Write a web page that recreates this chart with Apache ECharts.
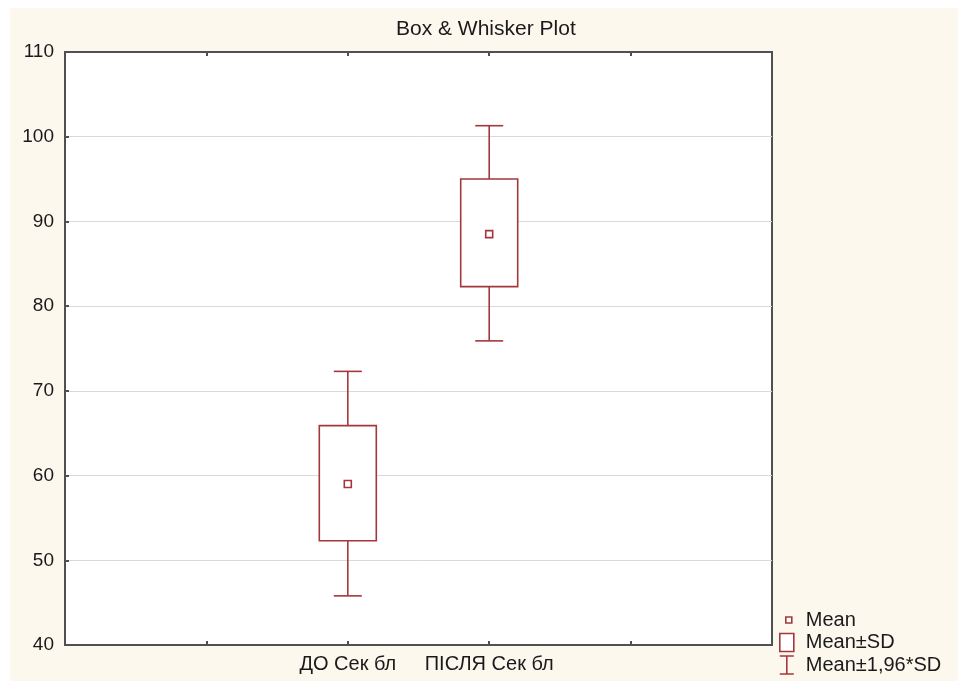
<!DOCTYPE html>
<html>
<head>
<meta charset="utf-8">
<script src="https://cdn.jsdelivr.net/npm/echarts@6/dist/echarts.min.js"></script>
<style>
  html, body { margin: 0; padding: 0; background: #ffffff; }
  #bg { position: absolute; left: 10px; top: 8px; width: 948px; height: 673px; background: #fdf8ee; }
  #main { position: absolute; left: 0; top: 0; width: 958px; height: 681px; }
</style>
</head>
<body>
<div id="bg"></div>
<div id="main"></div>
<script>
// ---- data ----
const title = 'Box & Whisker Plot';
const categories = ['ДО Сек бл', 'ПІСЛЯ Сек бл'];
const means  = [59.0, 88.5];
const sdLow  = [52.3, 82.3];
const sdHigh = [65.9, 95.0];
const ciLow  = [45.8, 75.9];
const ciHigh = [72.3, 101.3];
const yMin = 40, yMax = 110, yStep = 10;
const legendNames = ['Mean', 'Mean±SD', 'Mean±1,96*SD'];

// ---- styling ----
const RED = '#a5373c';
const AXIS = '#505050';
const TXT = '#1a1a1a';
const FONT = 'Liberation Sans, Arial, sans-serif';

// category axis padded so boxes sit on the 2nd and 3rd inner ticks
const axisCats = ['', ''].concat(categories, ['', '']);
const offset = 2;

const whiskerData = categories.map((c, i) => [i + offset, ciLow[i], sdLow[i], sdHigh[i], ciHigh[i]]);
const boxData = categories.map((c, i) => [i + offset, sdLow[i], sdHigh[i]]);
const meanData = categories.map((c, i) => [i + offset, means[i]]);

const lineStyle = { stroke: RED, lineWidth: 1.6 };

const chart = echarts.init(document.getElementById('main'), null, { renderer: 'canvas' });
chart.setOption({
  backgroundColor: 'transparent',
  animation: false,
  title: {
    text: title,
    left: 396,
    top: 19,
    padding: 0,
    textStyle: { fontFamily: FONT, fontSize: 21, fontWeight: 'normal', color: TXT }
  },
  grid: {
    left: 65, right: 186, top: 52, bottom: 36,
    show: true, backgroundColor: '#ffffff', borderColor: AXIS, borderWidth: 2
  },
  legend: {
    orient: 'vertical',
    left: 779,
    top: 610,
    padding: 0,
    itemWidth: 21,
    itemHeight: 18,
    itemGap: 2.5,
    selectedMode: false,
    textStyle: { fontFamily: FONT, fontSize: 20, lineHeight: 18, color: TXT },
    data: [
      { name: legendNames[0], icon: 'path://M0,0M21,18M6,6L12,6L12,12L6,12Z',
        itemStyle: { color: '#ffffff', borderColor: RED, borderWidth: 1.6 } },
      { name: legendNames[1], icon: 'path://M0,0M21,18M0,0L14,0L14,18L0,18Z',
        itemStyle: { color: '#ffffff', borderColor: RED, borderWidth: 1.6 } },
      { name: legendNames[2], icon: 'path://M0,0M21,18M0,0L14,0M7,0L7,18M0,18L14,18',
        itemStyle: { color: 'transparent', borderColor: RED, borderWidth: 1.6 } }
    ]
  },
  xAxis: [
    {
      type: 'category', data: axisCats, boundaryGap: false, position: 'bottom',
      axisLine: { lineStyle: { color: AXIS, width: 2 } },
      axisTick: { inside: true, length: 4, lineStyle: { color: AXIS, width: 2 } },
      axisLabel: { interval: 0, fontFamily: FONT, fontSize: 20, color: TXT, margin: 9 },
      splitLine: { show: false }
    },
    {
      type: 'category', data: axisCats, boundaryGap: false, position: 'top',
      axisLine: { lineStyle: { color: AXIS, width: 2 } },
      axisTick: { inside: true, length: 4, lineStyle: { color: AXIS, width: 2 } },
      axisLabel: { show: false },
      splitLine: { show: false }
    }
  ],
  yAxis: {
    type: 'value', min: yMin, max: yMax, interval: yStep,
    axisLine: { show: true, lineStyle: { color: AXIS, width: 2 } },
    axisTick: { show: true, inside: true, length: 4, lineStyle: { color: AXIS, width: 2 } },
    axisLabel: { fontFamily: FONT, fontSize: 19, color: TXT, margin: 11 },
    splitLine: { show: true, lineStyle: { color: '#d9d9d9', width: 1 } }
  },
  series: [
    {
      name: legendNames[2],
      type: 'custom',
      data: whiskerData,
      encode: { x: 0, y: [1, 2, 3, 4] },
      itemStyle: { color: RED },
      renderItem: function (params, api) {
        const x = api.value(0);
        const pLo = api.coord([x, api.value(1)]);
        const pBL = api.coord([x, api.value(2)]);
        const pBH = api.coord([x, api.value(3)]);
        const pHi = api.coord([x, api.value(4)]);
        const cap = 14;
        return {
          type: 'group',
          children: [
            { type: 'line', shape: { x1: pLo[0], y1: pLo[1], x2: pBL[0], y2: pBL[1] }, style: lineStyle },
            { type: 'line', shape: { x1: pHi[0], y1: pHi[1], x2: pBH[0], y2: pBH[1] }, style: lineStyle },
            { type: 'line', shape: { x1: pLo[0] - cap, y1: pLo[1], x2: pLo[0] + cap, y2: pLo[1] }, style: lineStyle },
            { type: 'line', shape: { x1: pHi[0] - cap, y1: pHi[1], x2: pHi[0] + cap, y2: pHi[1] }, style: lineStyle }
          ]
        };
      },
      z: 2
    },
    {
      name: legendNames[1],
      type: 'custom',
      data: boxData,
      encode: { x: 0, y: [1, 2] },
      itemStyle: { color: RED },
      renderItem: function (params, api) {
        const x = api.value(0);
        const pL = api.coord([x, api.value(1)]);
        const pH = api.coord([x, api.value(2)]);
        const half = 28.5;
        return {
          type: 'rect',
          shape: { x: pL[0] - half, y: pH[1], width: half * 2, height: pL[1] - pH[1] },
          style: { fill: '#ffffff', stroke: RED, lineWidth: 1.6 }
        };
      },
      z: 3
    },
    {
      name: legendNames[0],
      type: 'scatter',
      data: meanData,
      symbol: 'rect',
      symbolSize: 7,
      itemStyle: { color: '#ffffff', borderColor: RED, borderWidth: 1.6, opacity: 1 },
      z: 4
    }
  ]
});
</script>
</body>
</html>
